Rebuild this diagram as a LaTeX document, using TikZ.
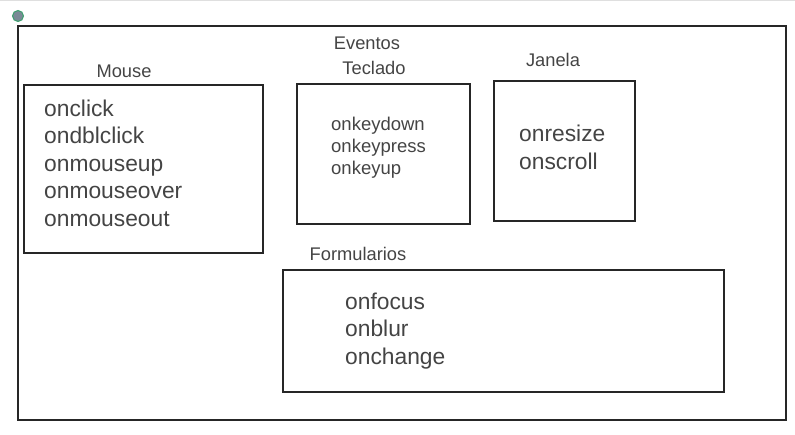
\documentclass[tikz,border=0pt]{standalone}
\usepackage{fontspec}
\setmainfont{Liberation Sans}
\usepackage{xcolor}
\usepackage{tikz}
\definecolor{linegray}{RGB}{38,38,38}
\definecolor{textgray}{RGB}{68,68,68}
\definecolor{pingray}{RGB}{122,138,150}
\definecolor{pingreen}{RGB}{60,160,110}

\begin{document}
\begin{tikzpicture}[x=1pt,y=-1pt,
  box/.style={rectangle,draw=linegray,line width=2pt,inner sep=0pt},
  title/.style={text=textgray,inner sep=0pt,font=\fontsize{18.3}{22}\selectfont},
  items/.style={text=textgray,inner sep=0pt,anchor=west,align=left,font=\fontsize{22.8}{27.5}\selectfont},
  smallitems/.style={items,font=\fontsize{18.5}{22}\selectfont}]
\useasboundingbox (0,0) rectangle (795,435);
%\draw[help lines] (0,0) grid (795,435);
\draw[gray!25,line width=1pt] (0,1) -- (795,1);
\filldraw[fill=pingray,draw=pingreen,line width=1pt] (18,16) circle (5.5);
\path (0,0)
(402,223) node(f) [box,minimum width=768,minimum height=394] {}
(143.5,169) node(m) [box,minimum width=239,minimum height=168] {}
(383.5,154) node(t) [box,minimum width=173,minimum height=140] {}
(564.5,151) node(j) [box,minimum width=141,minimum height=140] {}
(503.5,331) node(p) [box,minimum width=441,minimum height=122] {};

\path (0,0)
(367,43) node(ev) [title] {Eventos}
(124,71) node(ml) [title] {Mouse}
(374,68) node(tl) [title] {Teclado}
(553,60) node(jl) [title] {Janela}
(358,254) node(pl) [title] {Formularios};

\path (0,0)
(44,163) node(mi) [items] {onclick\\ondblclick\\onmouseup\\onmouseover\\onmouseout}
(331,148) node(ti) [smallitems] {onkeydown\\onkeypress\\onkeyup}
(519,147.5) node(ji) [items] {onresize\\onscroll}
(345,331) node(pi) [items] {onfocus\\onblur\\onchange};
\end{tikzpicture}
\end{document}
